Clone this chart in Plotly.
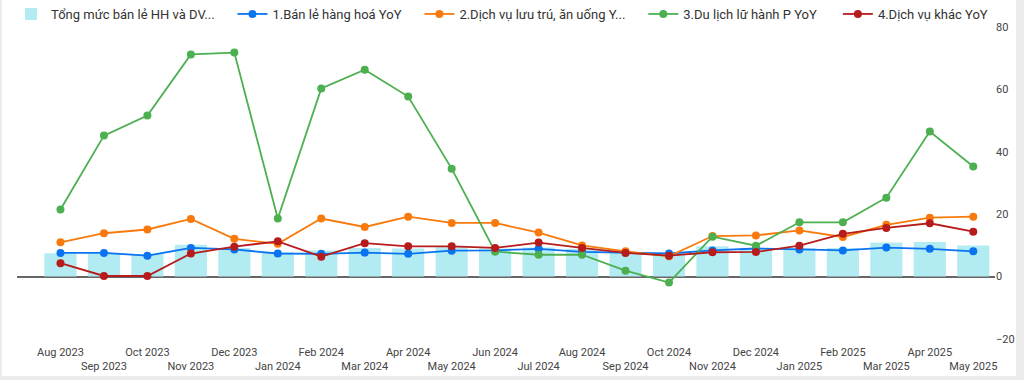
import plotly.graph_objects as go

months = ["Aug 2023", "Sep 2023", "Oct 2023", "Nov 2023", "Dec 2023", "Jan 2024",
          "Feb 2024", "Mar 2024", "Apr 2024", "May 2024", "Jun 2024", "Jul 2024",
          "Aug 2024", "Sep 2024", "Oct 2024", "Nov 2024", "Dec 2024", "Jan 2025",
          "Feb 2025", "Mar 2025", "Apr 2025", "May 2025"]

tong_muc = [7.5, 7.4, 7.2, 10.2, 9.2, 7.8, 8.4, 9.2, 9.0, 9.4, 9.0, 9.3,
            8.9, 7.8, 7.6, 9.7, 9.2, 9.2, 9.2, 10.9, 11.1, 10.0]
ban_le = [7.6, 7.6, 6.7, 9.2, 8.7, 7.4, 7.3, 7.7, 7.3, 8.3, 8.4, 8.9,
          7.9, 7.7, 7.4, 8.4, 9.0, 8.7, 8.4, 9.3, 8.9, 8.1]
luu_tru = [11.0, 13.9, 15.1, 18.5, 12.1, 10.5, 18.6, 15.9, 19.2, 17.2, 17.2, 14.1,
           10.0, 8.1, 6.5, 13.0, 13.2, 14.8, 12.7, 16.6, 18.9, 19.2]
du_lich = [21.5, 45.2, 51.6, 71.2, 71.8, 18.6, 60.3, 66.3, 57.7, 34.6, 8.0, 7.0,
           7.0, 1.9, -1.9, 12.8, 9.9, 17.4, 17.4, 25.3, 46.5, 35.3]
khac = [4.3, 0.2, 0.2, 7.4, 9.6, 11.3, 6.4, 10.7, 9.7, 9.7, 9.2, 10.9,
        9.2, 7.6, 6.7, 7.8, 7.9, 9.9, 13.7, 15.6, 17.1, 14.4]

names = ["Tổng mức bán lẻ HH và DV...", "1.Bán lẻ hàng hoá YoY",
         "2.Dịch vụ lưu trú, ăn uống Y...", "3.Du lịch lữ hành P YoY",
         "4.Dịch vụ khác YoY"]
y_ticks = [-20, 0, 20, 40, 60, 80]

tick_text = [m if i % 2 == 0 else "<br>" + m for i, m in enumerate(months)]
pad = ["\u00a0" * 4, "\u00a0" * 4, "\u00a0" * 4, "\u00a0" * 5, ""]

fig = go.Figure()
fig.add_trace(go.Bar(x=months, y=tong_muc, name=names[0] + pad[0], marker_color="#b2ebf2",
                     marker_line_width=0))
line_series = [(ban_le, "#0a74f0"), (luu_tru, "#f97a0c"), (du_lich, "#4caf50"), (khac, "#b71c1c")]
for i, (vals, col) in enumerate(line_series):
    fig.add_trace(go.Scatter(x=months, y=vals, name=names[i + 1] + pad[i + 1],
                             mode="lines+markers",
                             line=dict(color=col, width=1.8),
                             marker=dict(color=col, size=8)))

W, H = 1024, 380
L, R, T, B = 17, 29, 27, 41
pw, ph = W - L - R, H - T - B


def px(x):
    return (x - L) / pw


def py(y):
    return (H - B - y) / ph


gray = "#ebebeb"
shapes = [
    dict(type="rect", xref="paper", yref="paper", x0=px(0), x1=px(2), y0=py(380), y1=py(0),
         fillcolor=gray, line_width=0, layer="above"),
    dict(type="rect", xref="paper", yref="paper", x0=px(1016), x1=px(1024), y0=py(380), y1=py(0),
         fillcolor=gray, line_width=0, layer="above"),
    dict(type="rect", xref="paper", yref="paper", x0=px(0), x1=px(1024), y0=py(380), y1=py(376),
         fillcolor=gray, line_width=0, layer="above"),
]

fig.update_layout(
    width=W, height=H,
    margin=dict(l=L, r=R, t=T, b=B, autoexpand=False),
    paper_bgcolor="white", plot_bgcolor="white",
    font=dict(family="Roboto", color="#444", size=11),
    bargap=0.26,
    showlegend=True,
    legend=dict(orientation="h", xref="container", yref="container",
                x=11 / W, xanchor="left", y=1 - 14 / H, yanchor="middle",
                font=dict(size=13, color="#333"), bgcolor="rgba(0,0,0,0)",
                itemwidth=30, tracegroupgap=0),
    xaxis=dict(type="category", range=[-1.0, 21.5], showgrid=False, zeroline=False,
               showline=False, ticks="", tickmode="array", tickvals=months, ticktext=tick_text,
               tickfont=dict(size=11, color="#444"), tickangle=0, automargin=False,
               ticklabelstandoff=5),
    yaxis=dict(range=[-20, 80], side="right", tickvals=y_ticks, showgrid=False,
               zeroline=True, zerolinecolor="#666", zerolinewidth=1.5, showline=False,
               ticks="", tickfont=dict(size=11, color="#444"), ticklabelstandoff=0,
               automargin=False),
    shapes=shapes,
)

fig.write_html("out.html", config={"displayModeBar": False},
               post_script="document.body.style.margin='0';document.body.style.overflow='hidden';")
